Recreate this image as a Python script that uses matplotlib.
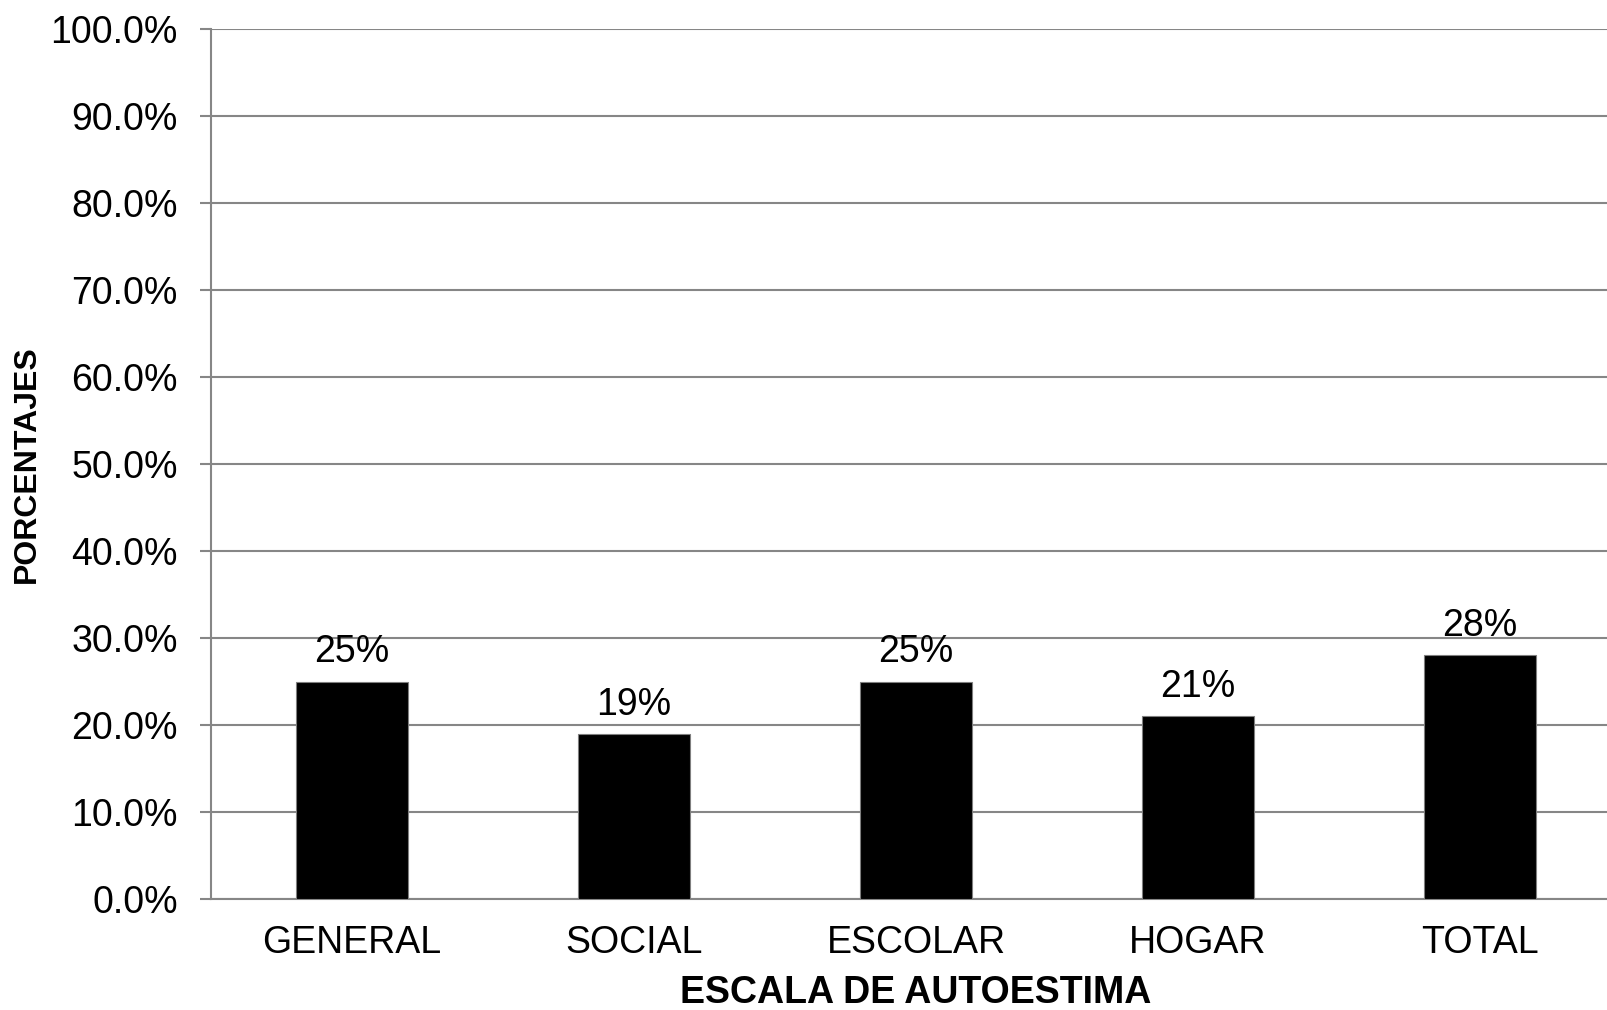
import numpy as np
import matplotlib.pyplot as plt
from matplotlib.ticker import FuncFormatter

categorias = ['GENERAL', 'SOCIAL', 'ESCOLAR', 'HOGAR', 'TOTAL']
valores = [25, 19, 25, 21, 28]  # porcentajes
etiquetas = ['25%', '19%', '25%', '21%', '28%']

plt.rcParams['font.family'] = ['Liberation Sans', 'DejaVu Sans']

fig = plt.figure(figsize=(16.08, 10.10), dpi=100)
# el area de la grafica sobresale un poco por la derecha
ax_w = 1410
ax = fig.add_axes([211 / 1608, 111 / 1010, ax_w / 1608, (899 - 29) / 1010])

x = np.arange(len(categorias))
bars = ax.bar(x, valores, width=0.4, color='black', edgecolor='#7f7f7f', linewidth=0.8, zorder=3)

for b, lab in zip(bars, etiquetas):
    ax.annotate(lab, (b.get_x() + b.get_width() / 2, b.get_height()),
                xytext=(0, 8), textcoords='offset points',
                ha='center', va='bottom', fontsize=27, zorder=4)

ax.set_xlim(-0.5, len(categorias) - 0.5)
ax.set_ylim(0, 100)
ax.set_yticks(np.arange(0, 101, 10))
ax.yaxis.set_major_formatter(FuncFormatter(lambda v, p: f'{v:.1f}%'))
ax.set_xticks(x)
ax.set_xticklabels(categorias)

ax.grid(axis='y', color='#868686', linewidth=1.5, zorder=0)
for s in ['top', 'right']:
    ax.spines[s].set_visible(False)
for s in ['left', 'bottom']:
    ax.spines[s].set_color('#868686')
    ax.spines[s].set_linewidth(1.5)

ax.tick_params(axis='y', length=8, width=1.5, color='#868686', pad=16, labelsize=27)
ax.tick_params(axis='x', length=0, pad=19, labelsize=27)

ax.set_xlabel('ESCALA DE AUTOESTIMA', fontsize=27, fontweight='bold', labelpad=10)
ax.set_ylabel('PORCENTAJES', fontsize=23, fontweight='bold')
ax.yaxis.set_label_coords((42 - 211) / ax_w, 0.5)

fig.savefig('out.png', dpi=100)
